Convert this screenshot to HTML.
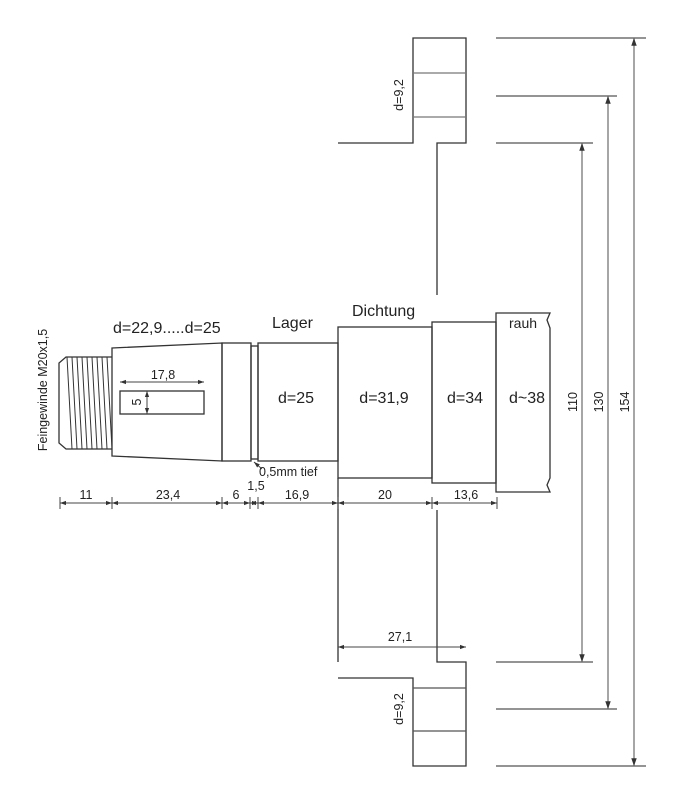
<!DOCTYPE html>
<html><head><meta charset="utf-8"><style>
html,body{margin:0;padding:0;background:#fff}
svg{display:block}
text{font-family:"Liberation Sans",Arial,sans-serif;fill:#222}
</style></head><body>
<svg width="692" height="812" viewBox="0 0 692 812" xmlns="http://www.w3.org/2000/svg">
<defs>
<marker id="a" viewBox="0 0 10 10" refX="10" refY="5" markerWidth="6" markerHeight="6" orient="auto-start-reverse"><path d="M0,1.5L10,5L0,8.5z" fill="#333"/></marker>
</defs>
<g fill="none" stroke="#333" stroke-width="1.3">
<!-- top flange -->
<path d="M338,143H413V38H466V143H437V295"/>
<path d="M413,73H466M413,117H466" stroke="#777"/>
<!-- bottom flange -->
<path d="M338,678H413V766H466V662H437V510"/>
<path d="M413,688H466M413,731H466" stroke="#555"/>
<path d="M338,478V662"/>
<!-- right ref lines -->
<path d="M496,38H646M496,96H617M496,143H593M496,662H593M496,709H617M496,766H646" stroke="#555"/>
<!-- thread -->
<path d="M112,357H66L59,363V443L66,449H112"/>
<path d="M67,357L72,449M72,357L77,449M77,357L82,449M82,357L87,449M87,357L92,449M92,357L97,449M97,357L102,449M102,357L107,449M107,357L112,449" stroke-width="1"/>
<!-- taper -->
<path d="M112,348L222,343V461L112,456Z"/>
<rect x="222" y="343" width="29" height="118"/>
<rect x="251" y="346" width="7" height="113"/>
<rect x="258" y="343" width="80" height="118"/>
<rect x="338" y="327" width="94" height="151"/>
<rect x="432" y="322" width="64" height="161"/>
<path d="M550,313H496V492H550L547,485L550,478V328L547,320Z"/>
<rect x="120" y="391" width="84" height="23"/>
</g>
<g stroke="#444" stroke-width="1" fill="none">
<line x1="120" y1="382" x2="204" y2="382" marker-start="url(#a)" marker-end="url(#a)"/>
<line x1="147" y1="391" x2="147" y2="414" marker-start="url(#a)" marker-end="url(#a)"/>
<line x1="60" y1="503" x2="497" y2="503"/>
<path d="M60,497V509M112,497V509M222,497V509M250,497V509M258,497V509M338,497V509M432,497V509M497,497V509"/>
<line x1="60" y1="503" x2="112" y2="503" marker-start="url(#a)" marker-end="url(#a)"/>
<line x1="112" y1="503" x2="222" y2="503" marker-start="url(#a)" marker-end="url(#a)"/>
<line x1="222" y1="503" x2="250" y2="503" marker-start="url(#a)" marker-end="url(#a)"/>
<line x1="250" y1="503" x2="258" y2="503" marker-start="url(#a)" marker-end="url(#a)"/>
<line x1="258" y1="503" x2="338" y2="503" marker-start="url(#a)" marker-end="url(#a)"/>
<line x1="338" y1="503" x2="432" y2="503" marker-start="url(#a)" marker-end="url(#a)"/>
<line x1="432" y1="503" x2="497" y2="503" marker-start="url(#a)" marker-end="url(#a)"/>
<line x1="338" y1="647" x2="466" y2="647" marker-start="url(#a)" marker-end="url(#a)"/>
<line x1="262" y1="469" x2="254" y2="462" marker-end="url(#a)"/>
<line x1="582" y1="143" x2="582" y2="662" stroke="#777" stroke-width="1.3" marker-start="url(#a)" marker-end="url(#a)"/>
<line x1="608" y1="96" x2="608" y2="709" stroke="#777" stroke-width="1.3" marker-start="url(#a)" marker-end="url(#a)"/>
<line x1="634" y1="38" x2="634" y2="766" stroke="#777" stroke-width="1.3" marker-start="url(#a)" marker-end="url(#a)"/>
</g>
<g font-size="16">
<text x="113" y="333">d=22,9.....d=25</text>
<text x="272" y="328">Lager</text>
<text x="352" y="316">Dichtung</text>
<text x="296" y="403" text-anchor="middle">d=25</text>
<text x="384" y="403" text-anchor="middle">d=31,9</text>
<text x="465" y="403" text-anchor="middle">d=34</text>
<text x="527" y="403" text-anchor="middle">d~38</text>
</g>
<text x="509" y="328" font-size="14">rauh</text>
<g font-size="12.5" text-anchor="middle">
<text x="163" y="379">17,8</text>
<text x="86" y="499">11</text>
<text x="168" y="499">23,4</text>
<text x="236" y="499">6</text>
<text x="256" y="490">1,5</text>
<text x="297" y="499">16,9</text>
<text x="385" y="499">20</text>
<text x="466" y="499">13,6</text>
<text x="400" y="641">27,1</text>
</g>
<text x="259" y="476" font-size="12.5">0,5mm tief</text>
<text transform="translate(141,402) rotate(-90)" font-size="12.5" text-anchor="middle">5</text>
<text transform="translate(47,390) rotate(-90)" font-size="12.5" text-anchor="middle">Feingewinde M20x1,5</text>
<text transform="translate(403,95) rotate(-90)" font-size="12.5" text-anchor="middle">d=9,2</text>
<text transform="translate(403,709) rotate(-90)" font-size="12.5" text-anchor="middle">d=9,2</text>
<text transform="translate(577,402) rotate(-90)" font-size="12.5" text-anchor="middle">110</text>
<text transform="translate(603,402) rotate(-90)" font-size="12.5" text-anchor="middle">130</text>
<text transform="translate(629,402) rotate(-90)" font-size="12.5" text-anchor="middle">154</text>
</svg>
</body></html>
